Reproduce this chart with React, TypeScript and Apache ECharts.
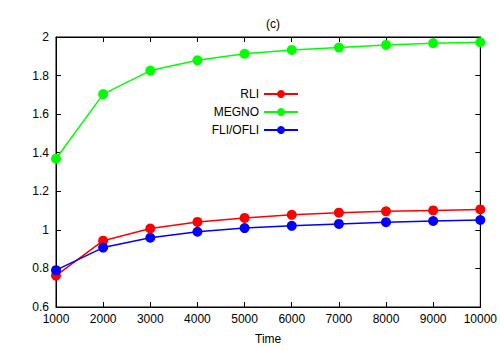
import React, { useEffect, useRef } from "react";
import * as echarts from "echarts";

const times = [1000, 2000, 3000, 4000, 5000, 6000, 7000, 8000, 9000, 10000];
const rli = [0.763, 0.944, 1.007, 1.041, 1.062, 1.078, 1.089, 1.096, 1.101, 1.106];
const megno = [1.369, 1.704, 1.826, 1.879, 1.913, 1.933, 1.945, 1.959, 1.968, 1.973];
const fli = [0.791, 0.908, 0.959, 0.99, 1.009, 1.021, 1.031, 1.04, 1.046, 1.051];

const seriesNames = ["RLI", "MEGNO", "FLI/OFLI"];
const seriesColors = ["#ff0000", "#00ff00", "#0000ff"];
const seriesData = [rli, megno, fli];

const FONT = "Liberation Sans, Arial, sans-serif";

export default function App() {
  const ref = useRef<HTMLDivElement>(null);
  useEffect(() => {
    if (!ref.current) return;
    const chart = echarts.init(ref.current, null, { renderer: "svg" });
    const tickStyle = { lineStyle: { color: "#000", width: 1 } };
    chart.setOption({
      animation: false,
      backgroundColor: "#fff",
      textStyle: { fontFamily: FONT },
      title: {
        text: "(c)",
        left: 268,
        top: 13,
        textAlign: "center",
        textStyle: { fontFamily: FONT, fontSize: 12, fontWeight: "normal", color: "#000" },
      },
      legend: {
        orient: "vertical",
        align: "right",
        right: 196,
        top: 83,
        itemWidth: 34,
        itemHeight: 10,
        itemGap: 6,
        textStyle: { fontFamily: FONT, fontSize: 12, color: "#000" },
        data: seriesNames,
      },
      grid: {
        left: 56,
        right: 19,
        top: 37,
        bottom: 40,
        show: true,
        borderColor: "#000",
        borderWidth: 1,
      },
      xAxis: [
        {
          type: "value",
          min: 1000,
          max: 10000,
          interval: 1000,
          name: "Time",
          nameLocation: "middle",
          nameGap: 26,
          nameTextStyle: { fontFamily: FONT, fontSize: 12, color: "#000" },
          axisLine: { lineStyle: { color: "#000" } },
          axisTick: { inside: true, length: 5, ...tickStyle },
          axisLabel: { fontFamily: FONT, fontSize: 12, color: "#000", margin: 6, formatter: (v: number) => String(v) },
          splitLine: { show: false },
        },
        {
          type: "value",
          position: "top",
          min: 1000,
          max: 10000,
          interval: 1000,
          axisLine: { lineStyle: { color: "#000" } },
          axisTick: { inside: true, length: 5, ...tickStyle },
          axisLabel: { show: false },
          splitLine: { show: false },
        },
      ],
      yAxis: [
        {
          type: "value",
          min: 0.6,
          max: 2,
          interval: 0.2,
          axisLine: { show: true, lineStyle: { color: "#000" } },
          axisTick: { show: true, inside: true, length: 5, ...tickStyle },
          axisLabel: { fontFamily: FONT, fontSize: 12, color: "#000", margin: 7 },
          splitLine: { show: false },
        },
        {
          type: "value",
          position: "right",
          min: 0.6,
          max: 2,
          interval: 0.2,
          axisLine: { show: true, lineStyle: { color: "#000" } },
          axisTick: { show: true, inside: true, length: 5, ...tickStyle },
          axisLabel: { show: false },
          splitLine: { show: false },
        },
      ],
      series: seriesNames.map((name, i) => ({
        name,
        type: "line",
        data: times.map((t, j) => [t, seriesData[i][j]]),
        symbol: "circle",
        symbolSize: 10,
        color: seriesColors[i],
        lineStyle: { width: 1.5, color: seriesColors[i] },
        itemStyle: { color: seriesColors[i] },
        z: i === 1 ? 3 : i === 0 ? 2 : 4,
      })),
    });
    return () => chart.dispose();
  }, []);
  return (
    <div
      ref={ref}
      style={{ position: "fixed", left: 0, top: 0, width: 500, height: 350 }}
    />
  );
}
